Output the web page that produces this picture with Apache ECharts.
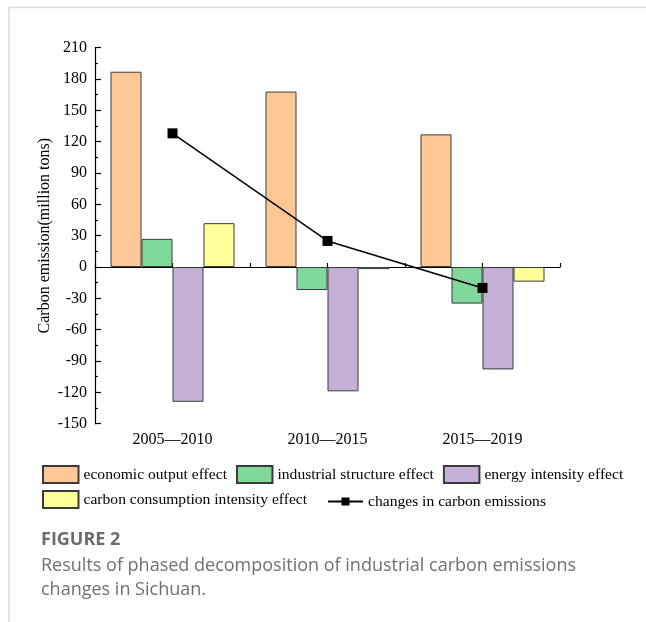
<!DOCTYPE html>
<html>
<head>
<meta charset="utf-8">
<script src="https://cdn.jsdelivr.net/npm/echarts@6/dist/echarts.min.js"></script>
<style>
html,body{margin:0;padding:0;background:#fff;}
#chart{width:646px;height:622px;}
</style>
</head>
<body>
<div id="chart"></div>
<script>
const categories = ['2005\u20142010', '2010\u20142015', '2015\u20142019'];
const economicOutput = [187, 168, 127];
const industrialStructure = [27, -22, -35];
const energyIntensity = [-129, -119, -98];
const carbonConsumption = [42, -2, -14];
const carbonChanges = [128, 25, -20];
const yTicks = {min: -150, max: 210, interval: 30};

const serif = 'Liberation Serif';
const chart = echarts.init(document.getElementById('chart'));
const barBorder = {borderColor: '#3a3a3a', borderWidth: 1};

chart.setOption({
  backgroundColor: '#fff',
  animation: false,
  grid: {left: 95, right: 86, top: 47.7, bottom: 198.3, containLabel: false},
  xAxis: [
    {
      type: 'value', min: 0, max: 6, interval: 1,
      position: 'bottom',
      axisLine: {onZero: true, lineStyle: {color: '#000', width: 1.2}},
      axisTick: {show: true, inside: true, length: 4, lineStyle: {color: '#000', width: 1.2}},
      axisLabel: {show: false},
      splitLine: {show: false}
    },
    {
      type: 'category', data: categories, position: 'bottom',
      axisLine: {show: false, onZero: false},
      axisTick: {show: false},
      axisLabel: {show: true, margin: 8, fontFamily: serif, fontSize: 16, color: '#000'},
      splitLine: {show: false}
    }
  ],
  yAxis: {
    type: 'value', min: yTicks.min, max: yTicks.max, interval: yTicks.interval,
    name: 'Carbon emission(million tons)',
    nameLocation: 'middle', nameGap: 42, nameRotate: 90, nameMoveOverlap: false,
    nameTextStyle: {fontFamily: serif, fontSize: 16, color: '#000'},
    axisLine: {show: true, lineStyle: {color: '#000', width: 1.2}},
    axisTick: {show: true, inside: true, length: 6, lineStyle: {color: '#000', width: 1.2}},
    minorTick: {show: true, splitNumber: 2, length: 3, lineStyle: {color: '#000', width: 1.2}},
    axisLabel: {margin: 8, fontFamily: serif, fontSize: 16, color: '#000'},
    splitLine: {show: false}
  },
  legend: [
    {
      left: 37, top: 460, orient: 'horizontal', itemWidth: 35.5, itemHeight: 17, itemGap: 9,
      icon: 'rect',
      textStyle: {fontFamily: serif, fontSize: 15.6, color: '#000'},
      data: ['economic output effect', 'industrial structure effect', 'energy intensity effect']
    },
    {
      left: 37, top: 485, itemWidth: 35.5, itemHeight: 17, itemGap: 9,
      icon: 'rect',
      textStyle: {fontFamily: serif, fontSize: 15.6, color: '#000'},
      data: ['carbon consumption intensity effect']
    },
    {
      left: 322, top: 488.5, itemWidth: 35, itemHeight: 10, itemGap: 9,
      textStyle: {fontFamily: serif, fontSize: 15.6, color: '#000'},
      data: ['changes in carbon emissions']
    }
  ],
  series: [
    {name: 'economic output effect', type: 'bar', xAxisIndex: 1, data: economicOutput,
     barGap: '0%', barCategoryGap: '20%', itemStyle: Object.assign({color: '#FFC796'}, barBorder)},
    {name: 'industrial structure effect', type: 'bar', xAxisIndex: 1, data: industrialStructure,
     itemStyle: Object.assign({color: '#80D99B'}, barBorder)},
    {name: 'energy intensity effect', type: 'bar', xAxisIndex: 1, data: energyIntensity,
     itemStyle: Object.assign({color: '#C5B1D8'}, barBorder)},
    {name: 'carbon consumption intensity effect', type: 'bar', xAxisIndex: 1, data: carbonConsumption,
     itemStyle: Object.assign({color: '#FFFF99'}, barBorder)},
    {name: 'changes in carbon emissions', type: 'line', xAxisIndex: 1, data: carbonChanges,
     symbol: 'rect', symbolSize: 10, z: 5,
     lineStyle: {color: '#000', width: 1.5}, itemStyle: {color: '#000'}}
  ],
  graphic: [
    {type: 'line', shape: {x1: 9, y1: 7.5, x2: 646, y2: 7.5}, style: {stroke: '#d9d9d9', lineWidth: 1.5}},
    {type: 'line', shape: {x1: 9, y1: 7.5, x2: 9, y2: 622}, style: {stroke: '#d9d9d9', lineWidth: 1.5}},
    {type: 'text', left: 41, top: 531, style: {text: 'FIGURE 2', fontFamily: 'Open Sans', fontWeight: 'bold', fontSize: 18, fill: '#6b6b6b'}},
    {type: 'text', left: 41, top: 557, style: {text: 'Results of phased decomposition of industrial carbon emissions', fontFamily: 'Open Sans', fontSize: 18, fill: '#707070'}},
    {type: 'text', left: 41, top: 581, style: {text: 'changes in Sichuan.', fontFamily: 'Open Sans', fontSize: 18, fill: '#707070'}}
  ]
});
</script>
</body>
</html>
